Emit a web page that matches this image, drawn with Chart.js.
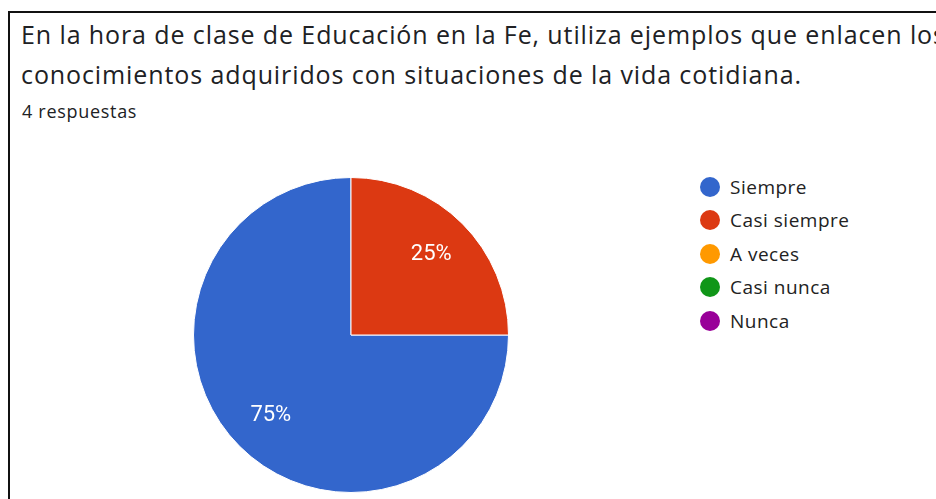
<!DOCTYPE html>
<html>
<head>
<meta charset="utf-8">
<script src="https://cdn.jsdelivr.net/npm/chart.js@4.4.1/dist/chart.umd.min.js"></script>
<style>
  html, body { margin: 0; padding: 0; background: #fff; }
  body { width: 936px; height: 499px; position: relative; overflow: hidden; font-family: "Open Sans", Roboto, sans-serif; }
  .frame { position: absolute; left: 8px; top: 11px; width: 940px; height: 500px; border-left: 2px solid #111; border-top: 2px solid #111; }
  .title { position: absolute; left: 21px; top: 14px; font-size: 25px; line-height: 40px; color: #202124; white-space: nowrap; letter-spacing: 0.9px; }
  .sub { position: absolute; left: 22px; top: 99px; font-size: 18px; color: #202124; letter-spacing: 0.7px; }
  .pie { position: absolute; left: 193px; top: 177px; width: 316px; height: 316px; }
  .legend { position: absolute; left: 700px; top: 170px; margin: 0; padding: 0; list-style: none; }
  .legend li { height: 33.5px; display: flex; align-items: center; font-size: 19px; color: #222; letter-spacing: 0.5px; }
  .legend span.dot { width: 20px; height: 20px; border-radius: 50%; margin-right: 10px; flex: none; }
</style>
</head>
<body>
<div class="frame"></div>
<div class="title">En la hora de clase de Educación en la Fe, utiliza ejemplos que enlacen los<br>conocimientos adquiridos con situaciones de la vida cotidiana.</div>
<div class="sub">4 respuestas</div>
<div class="pie"><canvas id="chart"></canvas></div>
<ul class="legend" id="legend"></ul>
<script>
const categories = ["Siempre", "Casi siempre", "A veces", "Casi nunca", "Nunca"]
const responses = [3, 1, 0, 0, 0]
const colors = ["#3366cc", "#dc3912", "#ff9900", "#109618", "#990099"]

const legend = document.getElementById("legend")
categories.forEach((name, i) => {
  const li = document.createElement("li")
  li.innerHTML = `<span class="dot" style="background:${colors[i]}"></span>${name}`
  legend.appendChild(li)
})

// percent labels inside each slice
const sliceLabels = {
  id: "sliceLabels",
  afterDatasetsDraw(chart) {
    const ctx = chart.ctx
    const meta = chart.getDatasetMeta(0)
    const total = responses.reduce((a, b) => a + b, 0)
    ctx.save()
    ctx.fillStyle = "#fff"
    ctx.font = "22px Roboto"
    ctx.textAlign = "center"
    ctx.textBaseline = "middle"
    meta.data.forEach((arc, i) => {
      if (!responses[i]) return
      const { x, y, startAngle, endAngle, outerRadius } = arc.getProps(["x", "y", "startAngle", "endAngle", "outerRadius"], true)
      const mid = (startAngle + endAngle) / 2
      const r = outerRadius * 0.72
      const pct = Math.round(responses[i] / total * 100) + "%"
      ctx.fillText(pct, x + Math.cos(mid) * r, y + Math.sin(mid) * r)
    })
    ctx.restore()
  }
}

new Chart(document.getElementById("chart"), {
  type: "pie",
  data: {
    labels: categories,
    datasets: [{
      data: responses,
      backgroundColor: colors,
      borderColor: "#fff",
      borderWidth: 1
    }]
  },
  options: {
    responsive: true,
    maintainAspectRatio: false,
    animation: false,
    rotation: 90,
    plugins: {
      legend: { display: false },
      tooltip: { enabled: false }
    }
  },
  plugins: [sliceLabels]
})
</script>
</body>
</html>
